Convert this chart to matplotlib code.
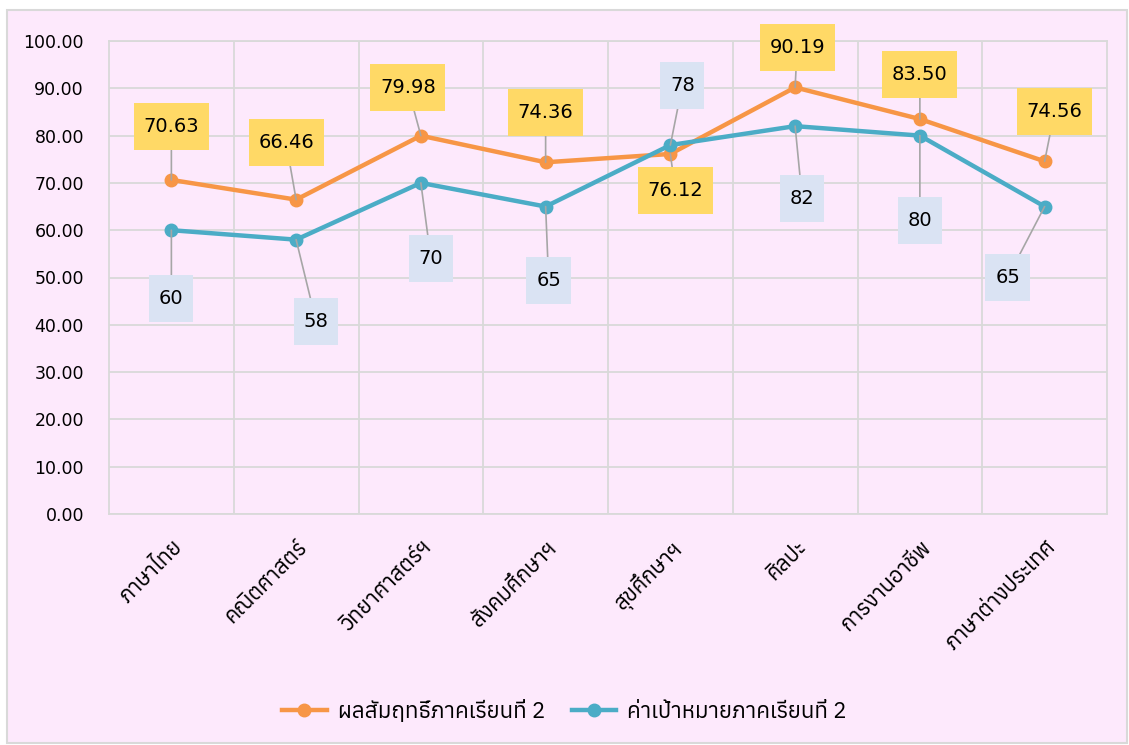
import matplotlib
matplotlib.use("Agg")
import matplotlib.pyplot as plt
from matplotlib import font_manager
from matplotlib.ft2font import FT2Font
from matplotlib.patches import Rectangle
from matplotlib.path import Path

subjects = ["ภาษาไทย", "คณิตศาสตร์", "วิทยาศาสตร์ฯ", "สังคมศึกษาฯ",
            "สุขศึกษาฯ", "ศิลปะ", "การงานอาชีพ", "ภาษาต่างประเทศ"]
score = [70.63, 66.46, 79.98, 74.36, 76.12, 90.19, 83.50, 74.56]
target = [60, 58, 70, 65, 78, 82, 80, 65]
score_name = "ผลสัมฤทธิ์ภาคเรียนที่ 2"
target_name = "ค่าเป้าหมายภาคเรียนที่ 2"

# label offsets in pixels (dx, dy) from the point
score_off = [(0, 53), (-10, 57), (-13, 48), (0, 50), (5, -37), (2, 40), (0, 45), (10, 50)]
target_off = [(0, -68), (20, -82), (10, -76), (3, -74), (12, 60), (7, -72), (0, -85), (-37, -71)]

# look for a font that actually has Thai glyphs
thai_fonts = []
for f in font_manager.fontManager.ttflist:
    try:
        if FT2Font(f.fname).get_char_index(ord("ก")):
            thai_fonts.append(f.name)
    except Exception:
        pass
thai_fonts = sorted(set(thai_fonts))
plt.rcParams["font.family"] = thai_fonts[:1] + ["DejaVu Sans"]


def label_box(x0, y0, width, height, mutation_size):
    # square box with more room above/below than at the sides
    px, py = 0.5 * mutation_size, 0.72 * mutation_size
    x0, y0 = x0 - px, y0 - py
    x1, y1 = x0 + width + 2 * px, y0 + height + 2 * py
    return Path([(x0, y0), (x1, y0), (x1, y1), (x0, y1), (x0, y0)], closed=True)


bg = "#fde9fc"
fig = plt.figure(figsize=(11.29, 7.45), dpi=100, facecolor="white")
fig.patches.append(Rectangle((7 / 1129, 2 / 745), 1120 / 1129, 733 / 745, transform=fig.transFigure,
                             facecolor=bg, edgecolor="#d9d9d9", linewidth=1.5, zorder=-1))
ax = fig.add_axes([109 / 1129, 231 / 745, 998 / 1129, 473 / 745])
ax.set_facecolor(bg)

x = list(range(len(subjects)))
orange = "#f79646"
blue = "#4bacc6"
ax.plot(x, score, color=orange, lw=3.2, marker="o", ms=9, zorder=3, label=score_name)
ax.plot(x, target, color=blue, lw=3.2, marker="o", ms=9, zorder=3, label=target_name)

ax.set_xlim(-0.5, len(subjects) - 0.5)
ax.set_ylim(0, 100)
ax.set_yticks(range(0, 101, 10))
ax.set_yticklabels([f"{v:.2f}" for v in range(0, 101, 10)], fontsize=12.5, family="DejaVu Sans")
ax.set_xticks(x)
ax.set_xticklabels(subjects, rotation=45, ha="right", rotation_mode="anchor", fontsize=15.5)
ax.set_xticks([i + 0.5 for i in x[:-1]], minor=True)
ax.tick_params(axis="both", which="both", length=0)
ax.tick_params(axis="y", pad=18)
ax.tick_params(axis="x", pad=16)
ax.grid(True, axis="y", color="#d9d9d9", lw=1.3)
ax.grid(True, axis="x", which="minor", color="#d9d9d9", lw=1.3)
ax.set_axisbelow(True)
for s in ax.spines.values():
    s.set_color("#d9d9d9")
    s.set_linewidth(1.3)


def put_labels(vals, offs, fmt, fc):
    for i, (v, (dx, dy)) in enumerate(zip(vals, offs)):
        ax.annotate(fmt(v), (i, v), xytext=(dx * 0.72, dy * 0.72), textcoords="offset points",
                    ha="center", va="center", fontsize=14, family="DejaVu Sans", zorder=5,
                    bbox=dict(boxstyle=label_box, fc=fc, ec="none"),
                    arrowprops=dict(arrowstyle="-", color="#a6a6a6", lw=1.2, shrinkA=0, shrinkB=0))


put_labels(score, score_off, lambda v: f"{v:.2f}", "#ffd966")
put_labels(target, target_off, lambda v: f"{v:.0f}", "#dae3f3")

fig.legend(loc="center", bbox_to_anchor=(0.5, 34 / 745), ncol=2, frameon=False, fontsize=16,
           handlelength=2.0, handletextpad=0.5, columnspacing=1.2)

fig.savefig("out.png", dpi=100, facecolor="white")
